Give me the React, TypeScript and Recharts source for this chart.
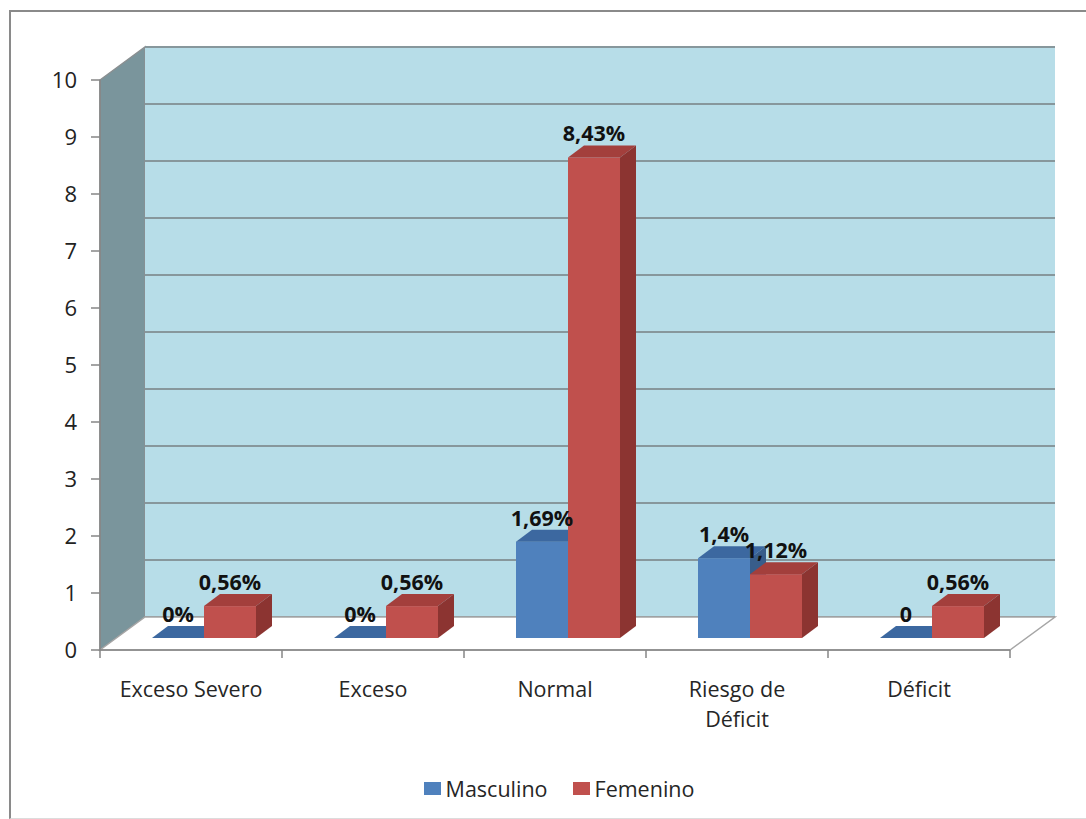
import { Bar, BarChart, LabelList, Legend, ReferenceArea, XAxis, YAxis } from 'recharts';

const categorias = ['Exceso Severo', 'Exceso', 'Normal', 'Riesgo de\nDéficit', 'Déficit'];
const masculino = [0, 0, 1.69, 1.4, 0];
const femenino = [0.56, 0.56, 8.43, 1.12, 0.56];
const etiquetasMasculino = ['0%', '0%', '1,69%', '1,4%', '0'];
const etiquetasFemenino = ['0,56%', '0,56%', '8,43%', '1,12%', '0,56%'];
const series = ['Masculino', 'Femenino'];
const ticksY = [0, 1, 2, 3, 4, 5, 6, 7, 8, 9, 10];

const data = categorias.map((categoria, i) => ({
    categoria,
    masculino: masculino[i],
    femenino: femenino[i],
    etiquetaM: etiquetasMasculino[i],
    etiquetaF: etiquetasFemenino[i],
}));

const FONT = '"Open Sans", "Noto Sans", sans-serif';

// perspective of the box: back wall offset and bar offsets
const WALL_DX = 45;
const WALL_DY = 33;
const BAR_SHIFT = 13;
const BAR_LIFT = 12;
const BAR_DX = 16;
const BAR_DY = 12;

const Walls = (props: any) => {
    const { x, y, width, height } = props;
    const bx = x + WALL_DX;
    const by = y - WALL_DY;
    const bottom = y + height;
    return (
        <g>
            <polygon
                points={`${x},${y} ${bx},${by} ${bx},${by + height} ${x},${bottom}`}
                fill="#7a959c"
                stroke="#8a8f91"
                strokeWidth={1.5}
            />
            <rect x={bx} y={by} width={width} height={height} fill="#b7dde8" />
            {ticksY.map((t) => {
                const gy = by + height * (1 - t / ticksY[ticksY.length - 1]);
                return <line key={t} x1={bx} x2={bx + width} y1={gy} y2={gy} stroke="#87979c" strokeWidth={2} />;
            })}
            <polygon
                points={`${x},${bottom} ${bx},${by + height} ${bx + width},${by + height} ${x + width},${bottom}`}
                fill="#ffffff"
                stroke="#a6a6a6"
                strokeWidth={1.5}
            />
        </g>
    );
};

const makeBox = (front: string, top: string, side: string) => (props: any) => {
    const { x, y, width, height } = props;
    const fx = x + BAR_SHIFT;
    const fy = y - BAR_LIFT;
    const h = Math.max(height, 0);
    return (
        <g>
            <rect x={fx} y={fy} width={width} height={h} fill={front} />
            <polygon
                points={`${fx},${fy} ${fx + BAR_DX},${fy - BAR_DY} ${fx + width + BAR_DX},${fy - BAR_DY} ${fx + width},${fy}`}
                fill={top}
            />
            <polygon
                points={`${fx + width},${fy} ${fx + width + BAR_DX},${fy - BAR_DY} ${fx + width + BAR_DX},${fy + h - BAR_DY} ${fx + width},${fy + h}`}
                fill={side}
            />
        </g>
    );
};

const BarLabel = (props: any) => {
    const { x, y, width, value } = props;
    return (
        <text
            x={x + BAR_SHIFT + width / 2}
            y={y - BAR_LIFT - 16}
            textAnchor="middle"
            fontFamily={FONT}
            fontWeight="bold"
            fontSize={21.5}
            fill="#111"
        >
            {value}
        </text>
    );
};

const CategoryTick = (props: any) => {
    const { x, y, payload, index, visibleTicksCount } = props;
    const half = payload.offset ?? 91;
    const lines = String(payload.value).split('\n');
    return (
        <g>
            <line x1={x - half} x2={x - half} y1={y} y2={y + 8} stroke="#868686" strokeWidth={1.5} />
            {index === visibleTicksCount - 1 && (
                <line x1={x + half} x2={x + half} y1={y} y2={y + 8} stroke="#868686" strokeWidth={1.5} />
            )}
            {lines.map((line, i) => (
                <text
                    key={line}
                    x={x}
                    y={y + 47 + i * 30}
                    textAnchor="middle"
                    fontFamily={FONT}
                    fontSize={21.5}
                    fill="#262626"
                >
                    {line}
                </text>
            ))}
        </g>
    );
};

const renderLegend = (props: any) => {
    const payload = [...props.payload].sort((a: any, b: any) => series.indexOf(a.value) - series.indexOf(b.value));
    return (
        <div
            style={{
                display: 'flex',
                justifyContent: 'center',
                alignItems: 'center',
                gap: 25,
                fontFamily: FONT,
                fontSize: 21.5,
                color: '#262626',
            }}
        >
            {payload.map((entry: any) => (
                <span key={entry.value} style={{ display: 'flex', alignItems: 'center' }}>
                    <span
                        style={{
                            display: 'inline-block',
                            width: 17,
                            height: 13,
                            background: entry.color,
                            marginRight: 5,
                        }}
                    />
                    {entry.value}
                </span>
            ))}
        </div>
    );
};

export default function App() {
    return (
        <div style={{ position: 'absolute', left: 0, top: 0, width: 1086, height: 819, background: '#fff' }}>
            <div
                style={{
                    position: 'absolute',
                    left: 9,
                    top: 10,
                    width: 1080,
                    height: 806,
                    borderTop: '2px solid #8a8a8a',
                    borderLeft: '2px solid #8a8a8a',
                    borderBottom: '1px solid #dcdcdc',
                }}
            />
            <BarChart
                width={1086}
                height={819}
                data={data}
                margin={{ top: 80, right: 76, bottom: 89, left: 40 }}
                barGap={0}
                style={{ position: 'absolute', left: 0, top: 0 }}
            >
                <ReferenceArea y1={0} y2={10} shape={Walls} ifOverflow="visible" />
                <XAxis
                    dataKey="categoria"
                    height={80}
                    axisLine={{ stroke: '#868686', strokeWidth: 1.5 }}
                    tickLine={false}
                    tickSize={0}
                    tickMargin={0}
                    interval={0}
                    tick={CategoryTick}
                />
                <YAxis
                    width={60}
                    domain={[0, 10]}
                    ticks={ticksY}
                    interval={0}
                    axisLine={{ stroke: '#868686', strokeWidth: 1.5 }}
                    tickLine={{ stroke: '#868686', strokeWidth: 1.5 }}
                    tickSize={9}
                    tickMargin={14}
                    tick={{ fontFamily: FONT, fontSize: 22, fill: '#222' }}
                />
                <Legend
                    layout="horizontal"
                    verticalAlign="middle"
                    align="center"
                    content={renderLegend}
                    wrapperStyle={{ top: 774, left: 16, width: 1086 }}
                />
                <Bar
                    dataKey="masculino"
                    name="Masculino"
                    fill="#4f81bd"
                    barSize={52}
                    shape={makeBox('#4f81bd', '#3c68a0', '#385d8a')}
                    isAnimationActive={false}
                >
                    <LabelList dataKey="etiquetaM" content={BarLabel} />
                </Bar>
                <Bar
                    dataKey="femenino"
                    name="Femenino"
                    fill="#c0504d"
                    barSize={52}
                    shape={makeBox('#c0504d', '#a33f3c', '#8c3431')}
                    isAnimationActive={false}
                >
                    <LabelList dataKey="etiquetaF" content={BarLabel} />
                </Bar>
            </BarChart>
        </div>
    );
}
